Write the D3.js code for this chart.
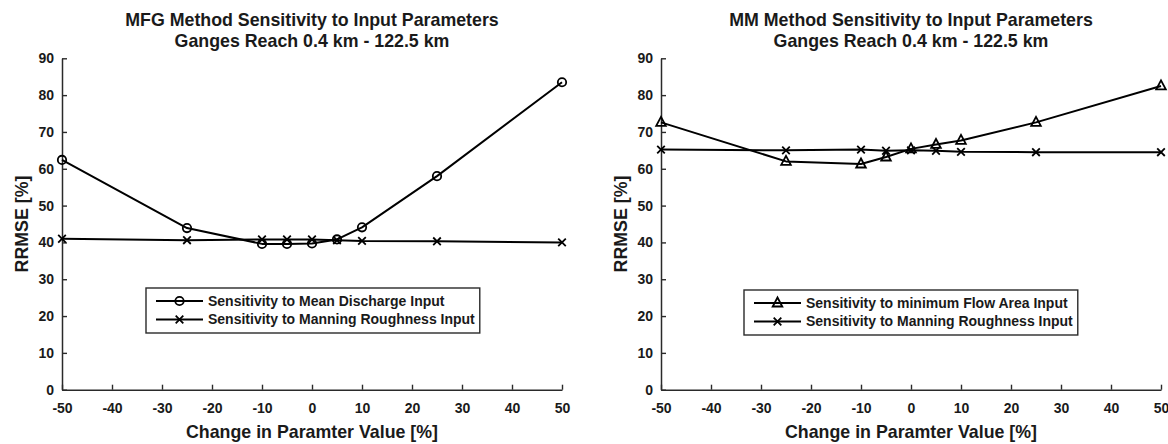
<!DOCTYPE html>
<html>
<head>
<meta charset="utf-8">
<script src="https://cdn.jsdelivr.net/npm/d3@7"></script>
<style>
  html, body { margin: 0; padding: 0; background: #fff; }
  svg { display: block; }
  text { font-family: "Liberation Sans", Arial, Helvetica, sans-serif; font-weight: bold; fill: #1a1a1a; }
</style>
</head>
<body>
<svg id="chart" width="1168" height="444"></svg>
<script>
// ---- data ----
const changePct = [-50, -25, -10, -5, 0, 5, 10, 25, 50];
const mfgMeanDischarge = [62.4, 43.9, 39.6, 39.6, 39.7, 40.8, 44.1, 58.0, 83.5];
const mfgManning = [41.0, 40.6, 40.8, 40.8, 40.8, 40.6, 40.4, 40.3, 40.0];
const mmMinFlowArea = [72.6, 62.0, 61.3, 63.2, 65.4, 66.6, 67.7, 72.6, 82.5];
const mmManning = [65.2, 65.0, 65.2, 64.9, 65.0, 64.9, 64.6, 64.5, 64.5];
const xTicks = [-50, -40, -30, -20, -10, 0, 10, 20, 30, 40, 50];
const yTicks = [0, 10, 20, 30, 40, 50, 60, 70, 80, 90];
const titlesLine1 = ["MFG Method Sensitivity to Input Parameters", "MM Method Sensitivity to Input Parameters"];
const titleLine2 = "Ganges Reach 0.4 km - 122.5 km";
const xLabel = "Change in Paramter Value [%]";
const yLabel = "RRMSE [%]";
const legendMFG = ["Sensitivity to Mean Discharge Input", "Sensitivity to Manning Roughness Input"];
const legendMM = ["Sensitivity to minimum Flow Area Input", "Sensitivity to Manning Roughness Input"];

const svg = d3.select("#chart");
const plotW = 500, plotTop = 58.3, plotBottom = 389.7;

const panels = [
  { left: 62, title: titlesLine1[0], series: [
      { values: mfgMeanDischarge, marker: "circle", label: legendMFG[0] },
      { values: mfgManning, marker: "x", label: legendMFG[1] } ],
    legend: { x: 146, y: 288 } },
  { left: 661, title: titlesLine1[1], series: [
      { values: mmMinFlowArea, marker: "triangle", label: legendMM[0] },
      { values: mmManning, marker: "x", label: legendMM[1] } ],
    legend: { x: 744, y: 290 } }
];

function drawMarker(g, type, cx, cy) {
  if (type === "circle") {
    g.append("circle").attr("cx", cx).attr("cy", cy).attr("r", 4.2)
      .attr("fill", "none").attr("stroke", "#000").attr("stroke-width", 1.8);
  } else if (type === "triangle") {
    g.append("path")
      .attr("d", `M${cx},${cy - 5.5}L${cx + 4.8},${cy + 3.5}L${cx - 4.8},${cy + 3.5}Z`)
      .attr("fill", "none").attr("stroke", "#000").attr("stroke-width", 1.8).attr("stroke-linejoin", "miter");
  } else {
    const s = 3.8;
    g.append("path")
      .attr("d", `M${cx - s},${cy - s}L${cx + s},${cy + s}M${cx - s},${cy + s}L${cx + s},${cy - s}`)
      .attr("stroke", "#000").attr("stroke-width", 1.8).attr("fill", "none");
  }
}

panels.forEach(p => {
  const x = d3.scaleLinear().domain([-50, 50]).range([p.left, p.left + plotW]);
  const y = d3.scaleLinear().domain([0, 90]).range([plotBottom, plotTop]);
  const g = svg.append("g");

  // axes
  const fmt = d => String(d);
  const xAxis = d3.axisBottom(x).tickValues(xTicks).tickFormat(fmt).tickSizeInner(-5).tickSizeOuter(0).tickPadding(13.5);
  const yAxis = d3.axisLeft(y).tickValues(yTicks).tickFormat(fmt).tickSizeInner(-5).tickSizeOuter(0).tickPadding(8);
  const gx = g.append("g").attr("transform", `translate(0,${plotBottom})`).call(xAxis);
  const gy = g.append("g").attr("transform", `translate(${p.left},0)`).call(yAxis);
  [gx, gy].forEach(a => {
    a.attr("font-family", null).attr("font-size", 14);
    a.select(".domain").attr("stroke", "#2a2a2a").attr("stroke-width", 1.5);
    a.selectAll(".tick line").attr("stroke", "#2a2a2a").attr("stroke-width", 1.4);
    a.selectAll(".tick text").attr("font-size", 14).attr("fill", "#1a1a1a");
  });

  // series
  const line = d3.line().x((d, i) => x(changePct[i])).y(d => y(d));
  p.series.forEach(s => {
    g.append("path").datum(s.values).attr("d", line)
      .attr("fill", "none").attr("stroke", "#000").attr("stroke-width", 2).attr("stroke-linejoin", "round");
    const mg = g.append("g");
    s.values.forEach((v, i) => drawMarker(mg, s.marker, x(changePct[i]), y(v)));
  });

  // titles
  const cx = p.left + plotW / 2;
  g.append("text").attr("x", cx).attr("y", 26).attr("text-anchor", "middle").attr("font-size", 17.8).text(p.title);
  g.append("text").attr("x", cx).attr("y", 47).attr("text-anchor", "middle").attr("font-size", 17.8).text(titleLine2);
  // axis labels
  g.append("text").attr("x", cx).attr("y", 438).attr("text-anchor", "middle").attr("font-size", 17.8).text(xLabel);
  g.append("text").attr("transform", `translate(${p.left - 34},${(plotTop + plotBottom) / 2}) rotate(-90)`)
    .attr("text-anchor", "middle").attr("font-size", 17.8).text(yLabel);

  // legend
  const lg = g.append("g").attr("transform", `translate(${p.legend.x},${p.legend.y})`);
  const rect = lg.append("rect").attr("x", 0).attr("y", 0).attr("height", 45)
    .attr("fill", "#fff").attr("stroke", "#2a2a2a").attr("stroke-width", 1.4);
  let maxW = 0;
  p.series.forEach((s, i) => {
    const ly = 13 + i * 18.5;
    lg.append("line").attr("x1", 10).attr("x2", 57).attr("y1", ly).attr("y2", ly)
      .attr("stroke", "#000").attr("stroke-width", 2);
    drawMarker(lg, s.marker, 33.5, ly);
    const t = lg.append("text").attr("x", 62).attr("y", ly).attr("dy", "0.35em")
      .attr("font-size", 14).text(s.label);
    maxW = Math.max(maxW, t.node().getComputedTextLength());
  });
  rect.attr("width", 62 + maxW + 5);
});
</script>
</body>
</html>
